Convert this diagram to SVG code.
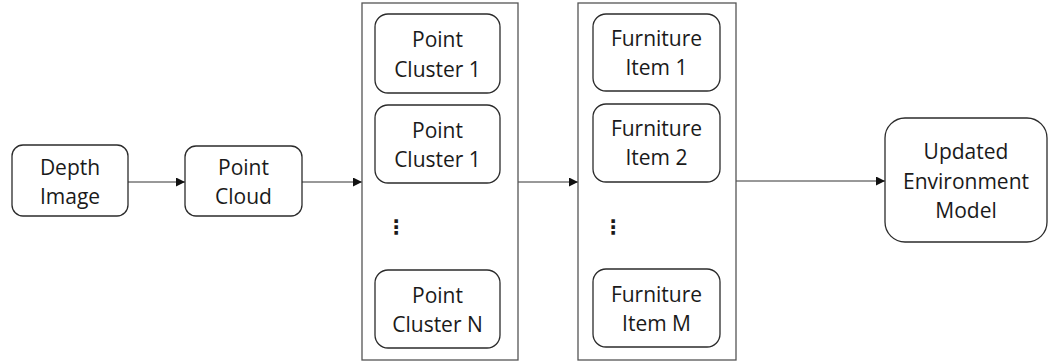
<svg xmlns="http://www.w3.org/2000/svg" width="1049" height="364" viewBox="0 0 1049 364">
<style>
.node{fill:#fff;stroke:#2b2b2b;stroke-width:1.3}
.group{fill:#fff;stroke:#555;stroke-width:1.3}
.t{font-family:"Open Sans","Noto Sans",sans-serif;font-size:21px;fill:#1a1a1a;text-anchor:middle}
.dots{font-family:"DejaVu Sans",sans-serif;font-size:20px;font-weight:bold;fill:#1a1a1a;text-anchor:middle}
.conn{stroke:#333;stroke-width:1;fill:none;marker-end:url(#arr)}
</style>
<defs>
<marker id="arr" viewBox="0 0 10 10" refX="10" refY="5" markerWidth="9" markerHeight="9" markerUnits="userSpaceOnUse" orient="auto">
<path d="M0,0 L10,5 L0,10 z" fill="#111"/>
</marker>
</defs>
<rect width="1049" height="364" fill="#fff"/>
<g id="connectors">
<line class="conn" x1="128" y1="182" x2="185" y2="182"/>
<line class="conn" x1="302" y1="182" x2="362" y2="182"/>
<line class="conn" x1="518" y1="182" x2="578" y2="182"/>
<line class="conn" x1="736" y1="181" x2="885" y2="181"/>
</g>
<g id="depth-image">
<rect class="node" x="12" y="145" width="116" height="71" rx="11"/>
<text class="t" x="70" y="175">Depth</text>
<text class="t" x="70" y="204">Image</text>
</g>
<g id="point-cloud">
<rect class="node" x="185" y="146" width="117" height="70" rx="11"/>
<text class="t" x="243.5" y="175">Point</text>
<text class="t" x="243.5" y="204">Cloud</text>
</g>
<g id="clusters">
<rect class="group" x="362" y="3" width="156" height="357"/>
<g id="cluster-1">
<rect class="node" x="375" y="14" width="125" height="79" rx="13"/>
<text class="t" x="437.5" y="47">Point</text>
<text class="t" x="437.5" y="77">Cluster 1</text>
</g>
<g id="cluster-2">
<rect class="node" x="375" y="105" width="125" height="78" rx="13"/>
<text class="t" x="437.5" y="138">Point</text>
<text class="t" x="437.5" y="167">Cluster 1</text>
</g>
<text class="dots" x="396" y="234">⋮</text>
<g id="cluster-n">
<rect class="node" x="375" y="270" width="125" height="78" rx="13"/>
<text class="t" x="437.5" y="303">Point</text>
<text class="t" x="437.5" y="332">Cluster N</text>
</g>
</g>
<g id="furniture">
<rect class="group" x="578" y="3" width="158" height="357"/>
<g id="item-1">
<rect class="node" x="593" y="14" width="127" height="77" rx="13"/>
<text class="t" x="656.5" y="46">Furniture</text>
<text class="t" x="656.5" y="75">Item 1</text>
</g>
<g id="item-2">
<rect class="node" x="593" y="104" width="127" height="78" rx="13"/>
<text class="t" x="656.5" y="136">Furniture</text>
<text class="t" x="656.5" y="165">Item 2</text>
</g>
<text class="dots" x="613" y="234">⋮</text>
<g id="item-m">
<rect class="node" x="593" y="269" width="127" height="78" rx="13"/>
<text class="t" x="656.5" y="302">Furniture</text>
<text class="t" x="656.5" y="331">Item M</text>
</g>
</g>
<g id="updated-model">
<rect class="node" x="885" y="118" width="162" height="124" rx="20"/>
<text class="t" x="966" y="159">Updated</text>
<text class="t" x="966" y="189">Environment</text>
<text class="t" x="966" y="218">Model</text>
</g>
</svg>
